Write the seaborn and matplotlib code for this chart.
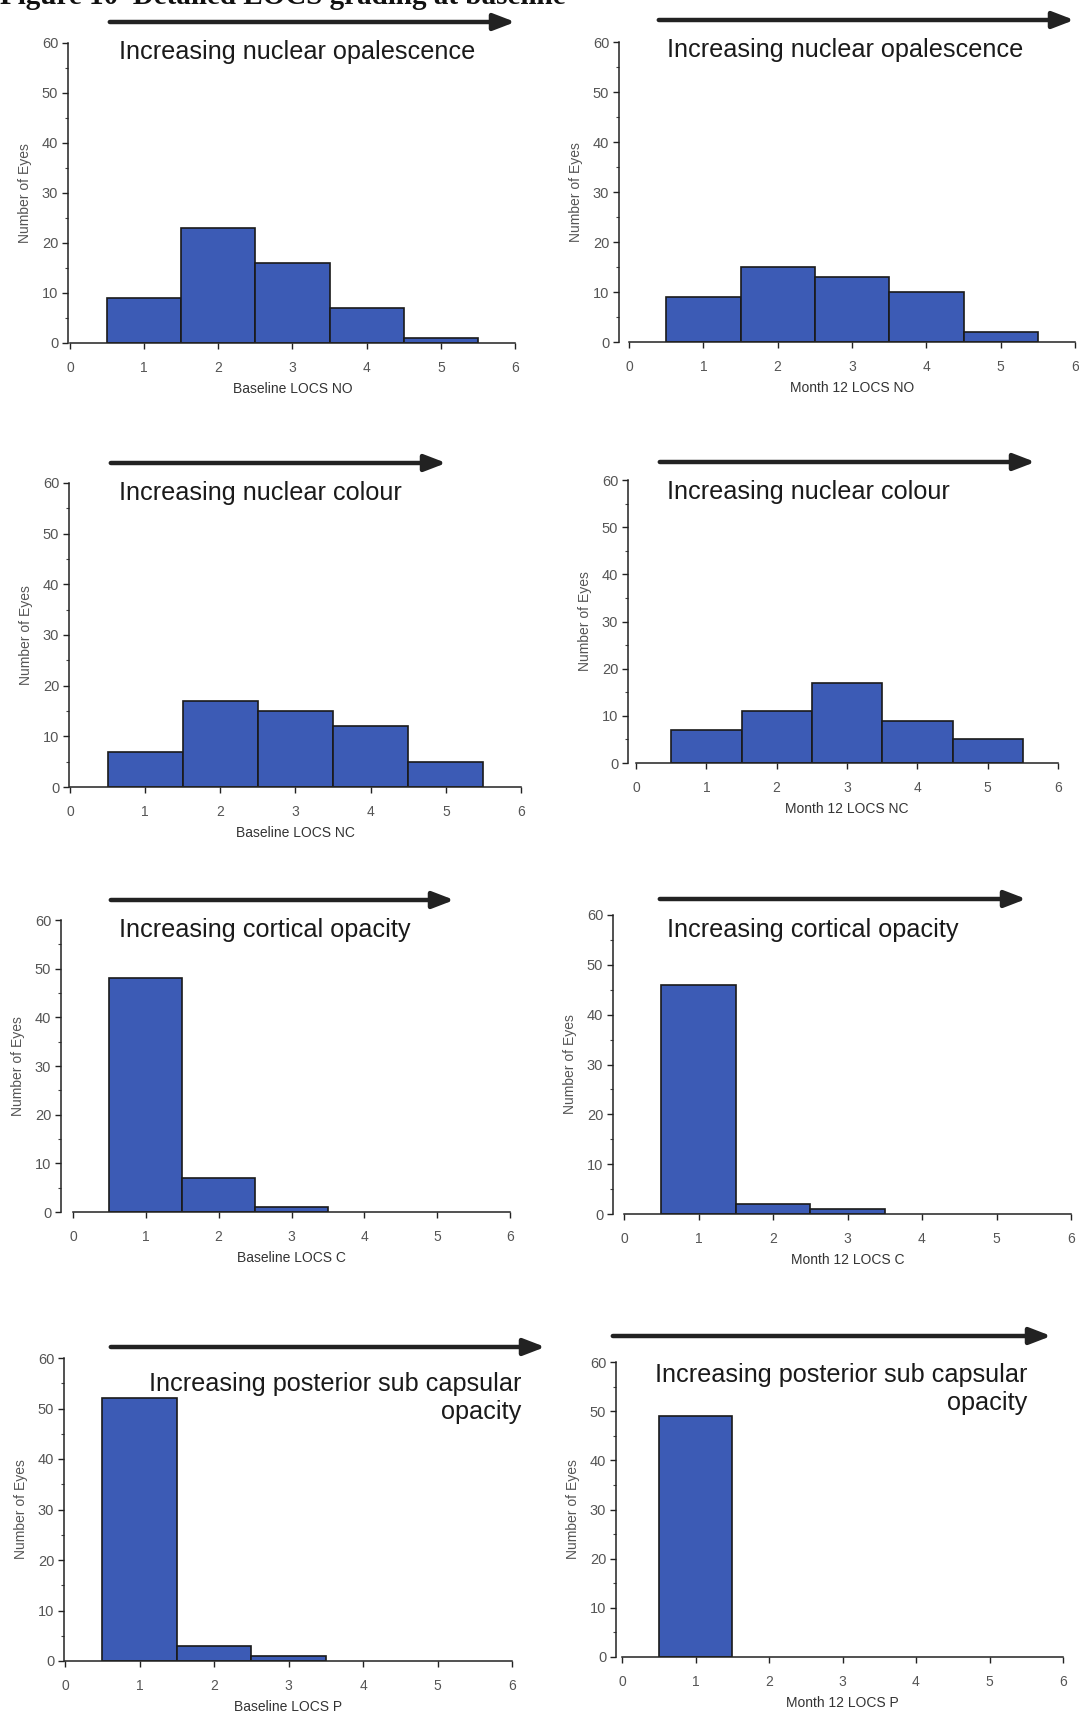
import matplotlib
matplotlib.use("Agg")
import matplotlib.pyplot as plt
import pandas as pd
import seaborn as sns

W, H = 1079, 1718

# LOCS grade counts
grades_no = [1, 2, 3, 4, 5]
baseline_no = [9, 23, 16, 7, 1]
month12_no = [9, 15, 13, 10, 2]

grades_nc = [1, 2, 3, 4, 5]
baseline_nc = [7, 17, 15, 12, 5]
month12_nc = [7, 11, 17, 9, 5]

grades_c = [1, 2, 3]
baseline_c = [48, 7, 1]
month12_c = [46, 2, 1]

grades_p_base = [1, 2, 3]
baseline_p = [52, 3, 1]
grades_p_m12 = [1]
month12_p = [49]

x_labels = ["Baseline LOCS NO", "Month 12 LOCS NO",
            "Baseline LOCS NC", "Month 12 LOCS NC",
            "Baseline LOCS C", "Month 12 LOCS C",
            "Baseline LOCS P", "Month 12 LOCS P"]
titles = ["Increasing nuclear opalescence", "Increasing nuclear opalescence",
          "Increasing nuclear colour", "Increasing nuclear colour",
          "Increasing cortical opacity", "Increasing cortical opacity",
          "Increasing posterior sub capsular\nopacity",
          "Increasing posterior sub capsular\nopacity"]

panels = [
    (grades_no, baseline_no), (grades_no, month12_no),
    (grades_nc, baseline_nc), (grades_nc, month12_nc),
    (grades_c, baseline_c), (grades_c, month12_c),
    (grades_p_base, baseline_p), (grades_p_m12, month12_p),
]

# pixel layout: x of 0, x of 6, y of 0, y of 60, y-spine offset
boxes = [
    (70, 515, 343, 43, 2), (629, 1075, 342, 42, 10),
    (70, 521, 787, 483, 1), (636, 1058, 763, 480, 8),
    (73, 510, 1212, 920, 12), (624, 1071, 1214, 915, 11),
    (65, 512, 1661, 1358, 1), (622, 1063, 1657, 1362, 6),
]
arrows = [(107, 518, 22), (656, 1077, 20), (108, 449, 463), (657, 1038, 462),
          (108, 457, 900), (657, 1029, 899), (108, 548, 1347), (610, 1054, 1336)]
title_pos = [(119, 52, "left"), (667, 50, "left"), (119, 493, "left"),
             (667, 492, "left"), (119, 930, "left"), (667, 930, "left"),
             (521, 1398, "right"), (1027, 1389, "right")]

sns.set_style("ticks")
plt.rcParams["font.family"] = ["Liberation Sans", "DejaVu Sans"]

fig = plt.figure(figsize=(W / 100, H / 100), dpi=100)
fig.patch.set_facecolor("white")

bar_color = "#3c5bb5"
tick_color = "#555555"

for i, ((g, counts), (x0, x6, y0, y60, off)) in enumerate(zip(panels, boxes)):
    ax = fig.add_axes([x0 / W, 1 - y0 / H, (x6 - x0) / W, (y0 - y60) / H])
    df = pd.DataFrame({"grade": g, "count": counts})
    sns.histplot(data=df, x="grade", weights="count", discrete=True, ax=ax,
                 color=bar_color, alpha=1, edgecolor="#1a1a1a", linewidth=1.2)
    ax.set_xlim(0, 6)
    ax.set_ylim(0, 60)
    ax.set_xticks(range(0, 7))
    ax.set_yticks(range(0, 61, 10))
    ax.set_yticks(range(5, 60, 10), minor=True)
    ax.spines["top"].set_visible(False)
    ax.spines["right"].set_visible(False)
    ax.spines["left"].set_position(("outward", off * 0.72))
    for s in ("left", "bottom"):
        ax.spines[s].set_color("#222222")
        ax.spines[s].set_linewidth(1.1)
    ax.tick_params(axis="x", direction="out", length=4, width=1, pad=9,
                   labelsize=10, labelcolor=tick_color, color="#222222")
    ax.tick_params(axis="y", which="major", direction="out", length=4, width=1,
                   pad=3, labelsize=10.5, labelcolor=tick_color, color="#222222")
    ax.tick_params(axis="y", which="minor", direction="out", length=2, width=0.8,
                   color="#444444")
    ax.set_xlabel(x_labels[i], fontsize=10, color="#333333", labelpad=5)
    ax.set_ylabel("Number of Eyes", fontsize=10, color=tick_color, labelpad=7)
    ax.set_facecolor("white")

for xa, xb, y in arrows:
    fig.add_artist(plt.matplotlib.patches.FancyArrowPatch(
        (xa / W, 1 - y / H), (xb / W, 1 - y / H), transform=fig.transFigure,
        arrowstyle="-|>,head_length=1.3,head_width=0.5", mutation_scale=10,
        linewidth=3.2, color="#222222"))

for (x, y, ha), t in zip(title_pos, titles):
    fig.text(x / W, 1 - y / H, t, ha=ha, va="center", multialignment=ha,
             fontsize=18.2, color="#1a1a1a", linespacing=1.25)

# caption line cut off at the top of the scanned page
fig.text(0.0, 1 - 4 / H, "Figure 10  Detailed LOCS grading at baseline",
         ha="left", va="baseline", fontsize=21, fontweight="bold",
         family=["Liberation Serif", "DejaVu Serif"], color="#111111")

fig.savefig("out.png", dpi=100, facecolor="white")
